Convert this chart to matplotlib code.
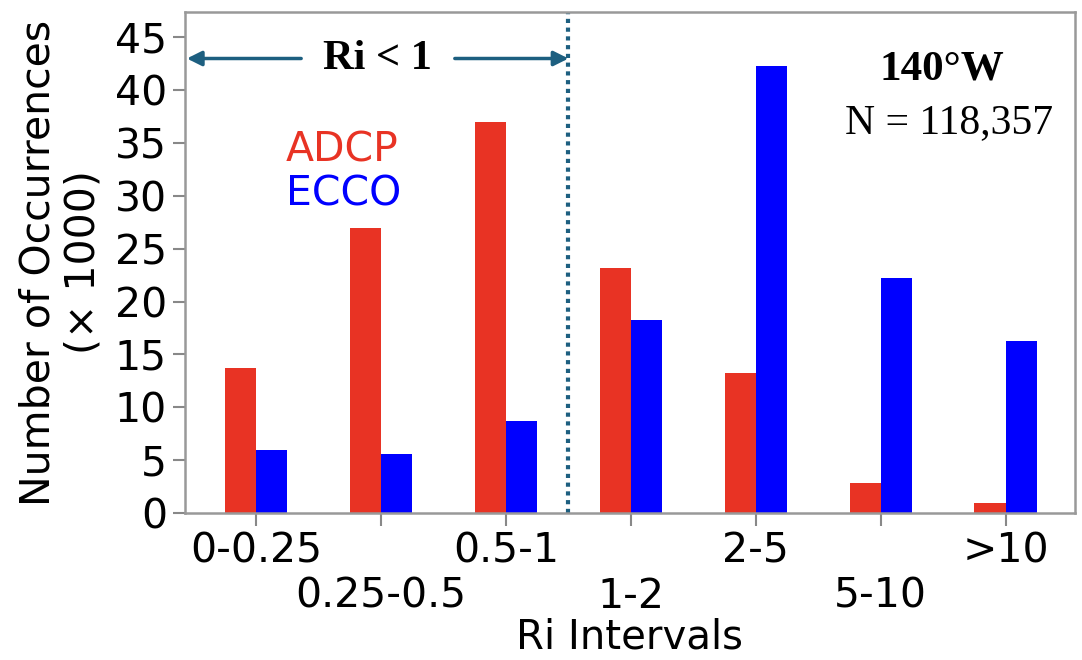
import matplotlib
matplotlib.use("Agg")
import matplotlib.pyplot as plt
from matplotlib.ticker import FixedLocator, FixedFormatter
import numpy as np

categories = ["0-0.25", "0.25-0.5", "0.5-1", "1-2", "2-5", "5-10", ">10"]
adcp = [13.7, 27.0, 37.0, 23.2, 13.2, 2.8, 0.9]
ecco = [6.0, 5.6, 8.7, 18.3, 42.3, 22.2, 16.3]

RED = "#e83324"
BLUE = "#0000ff"
TEAL = "#1d5f80"
FS = 29.5

fig = plt.figure(figsize=(10.82, 6.60), dpi=100)
ax = fig.add_axes([185/1082, 1 - 513/660, (1075-185)/1082, (513-12)/660])

x = np.arange(len(categories))
w = 0.25
ax.bar(x - w/2, adcp, width=w, color=RED)
ax.bar(x + w/2, ecco, width=w, color=BLUE)

ax.set_xlim(-0.57, 6.555)
ax.set_ylim(0, 47.4)
ax.set_yticks(np.arange(0, 46, 5))

even = [i for i in range(len(categories)) if i % 2 == 0]
odd = [i for i in range(len(categories)) if i % 2 == 1]
ax.xaxis.set_major_locator(FixedLocator(even))
ax.xaxis.set_major_formatter(FixedFormatter([categories[i] for i in even]))
ax.xaxis.set_minor_locator(FixedLocator(odd))
ax.xaxis.set_minor_formatter(FixedFormatter([categories[i] for i in odd]))

ax.tick_params(axis="both", which="both", labelsize=FS, direction="out", length=9,
               width=1.5, color="#888888", pad=4)
ax.tick_params(axis="x", which="minor", pad=37)
for s in ax.spines.values():
    s.set_color("#999999")
    s.set_linewidth(1.8)

ax.set_ylabel("Number of Occurrences\n(× 1000)", fontsize=FS, labelpad=8, linespacing=1.15)
ax.set_xlabel("Ri Intervals", fontsize=29, labelpad=0.5)

ax.text(0.232, 34.3, "ADCP", color=RED, fontsize=FS, ha="left", va="center")
ax.text(0.235, 30.1, "ECCO", color=BLUE, fontsize=FS, ha="left", va="center")

# Ri < 1 annotation
ax.axvline(2.5, color=TEAL, linestyle=(0, (1, 1.1)), linewidth=3)
ax.annotate("", xy=(-0.555, 43.0), xytext=(0.36, 43.0),
            arrowprops=dict(arrowstyle="-|>", color=TEAL, lw=2.5, mutation_scale=22,
                            shrinkA=0, shrinkB=0))
ax.annotate("", xy=(2.5, 43.0), xytext=(1.59, 43.0),
            arrowprops=dict(arrowstyle="-|>", color=TEAL, lw=2.5, mutation_scale=22,
                            shrinkA=0, shrinkB=0))
ax.text(0.975, 43.0, "Ri < 1", fontsize=30.5, fontweight="bold", family="Liberation Serif",
        ha="center", va="center")

ax.text(5.49, 42.0, "140°W", fontsize=31, fontweight="bold", family="Liberation Serif",
        ha="center", va="center")
ax.text(5.55, 36.9, "N = 118,357", fontsize=30, family="Liberation Serif",
        ha="center", va="center")

fig.savefig("out.png", dpi=100)
